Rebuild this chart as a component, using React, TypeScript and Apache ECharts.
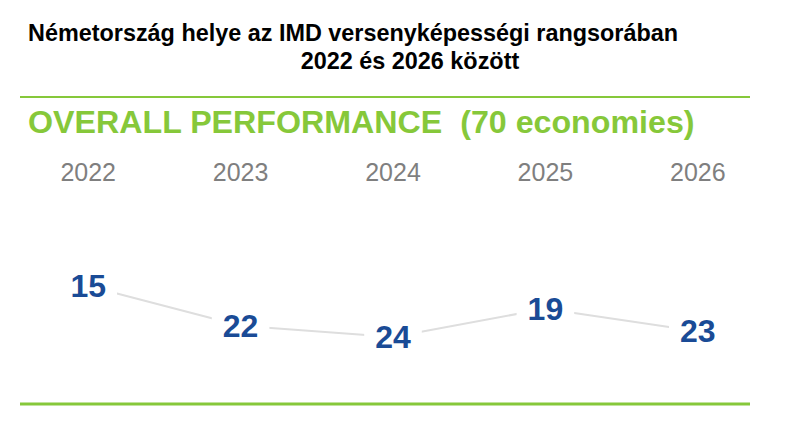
import React, { useEffect, useRef } from "react";
import * as echarts from "echarts";

const years = ["2022", "2023", "2024", "2025", "2026"];
const ranks = [15, 22, 24, 19, 23];
const titleLine1 = "Németország helye az IMD versenyképességi rangsorában";
const titleLine2 = "2022 és 2026 között";
const subtitle = "OVERALL PERFORMANCE  (70 economies)";

export default function App() {
  const ref = useRef<HTMLDivElement>(null);
  useEffect(() => {
    if (!ref.current) return;
    const chart = echarts.init(ref.current, null, { renderer: "svg" });
    const green = "#86c83a";
    const font = "Liberation Sans, Arial, sans-serif";
    chart.setOption({
      animation: false,
      backgroundColor: "#ffffff",
      title: [
        {
          text: titleLine1,
          left: 28,
          top: 21,
          padding: 0,
          textStyle: { fontFamily: font, fontSize: 23.4, fontWeight: "bold", color: "#000" },
        },
        {
          text: titleLine2,
          left: 410,
          textAlign: "center",
          top: 49,
          padding: 0,
          textStyle: { fontFamily: font, fontSize: 23.4, fontWeight: "bold", color: "#000" },
        },
        {
          text: subtitle,
          left: 28,
          top: 106,
          padding: 0,
          textStyle: { fontFamily: font, fontSize: 32.2, fontWeight: "bold", color: green },
        },
      ],
      graphic: [
        { type: "line", shape: { x1: 20, y1: 97, x2: 750, y2: 97 }, style: { stroke: green, lineWidth: 2 } },
        { type: "line", shape: { x1: 20, y1: 404, x2: 750, y2: 404 }, style: { stroke: green, lineWidth: 3 } },
      ],
      grid: { left: 12, width: 762, top: 201, height: 226.67 },
      xAxis: {
        type: "category",
        data: years,
        position: "top",
        boundaryGap: true,
        axisLine: { show: false },
        axisTick: { show: false },
        splitLine: { show: false },
        axisLabel: {
          color: "#7f7f7f",
          fontSize: 25,
          fontFamily: font,
          margin: 17,
        },
      },
      yAxis: { type: "value", inverse: true, min: 0, max: 40, show: false },
      series: [
        {
          type: "line",
          data: ranks,
          symbol: "circle",
          symbolSize: 1,
          itemStyle: { color: "rgba(0,0,0,0)" },
          lineStyle: { color: "#dedede", width: 2 },
          label: {
            show: true,
            position: "inside",
            formatter: "{c}",
            color: "#1a4b96",
            fontSize: 32,
            fontWeight: "bold",
            fontFamily: font,
            backgroundColor: "#ffffff",
            padding: [2, 11],
          },
        },
      ],
    });
    return () => chart.dispose();
  }, []);
  return <div ref={ref} style={{ position: "fixed", left: 0, top: 0, width: 785, height: 447 }} />;
}
